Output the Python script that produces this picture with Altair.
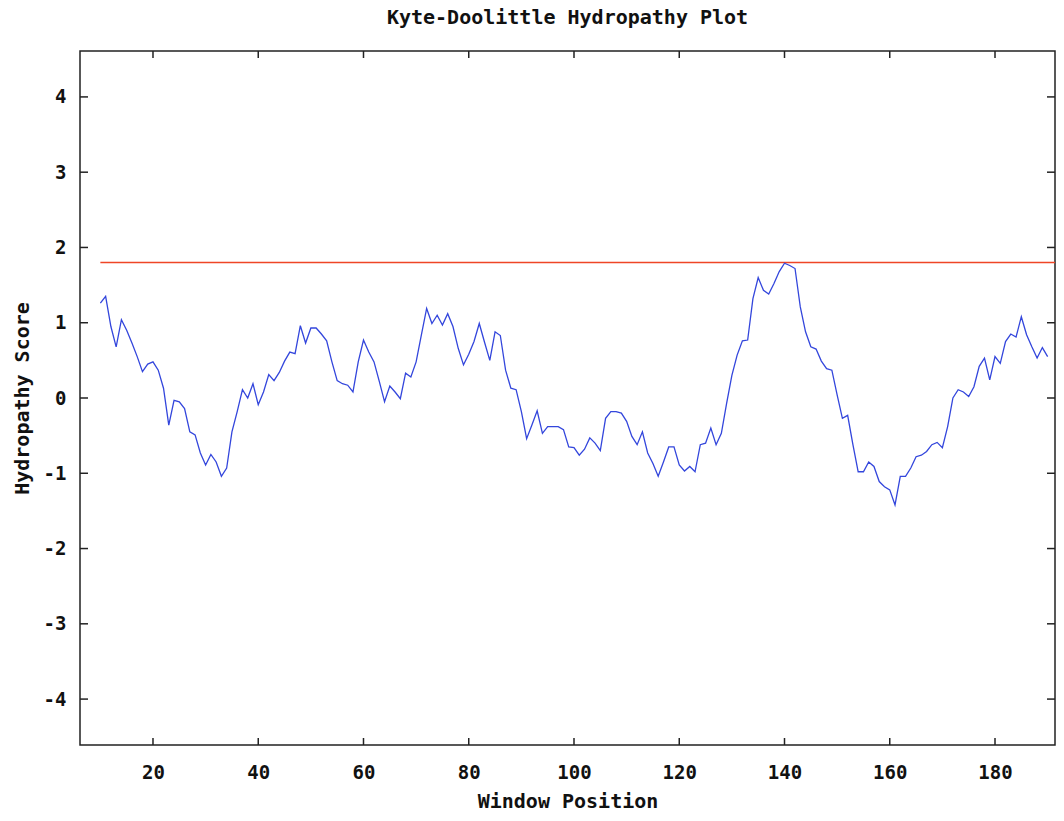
import altair as alt
import pandas as pd

positions = list(range(10, 191))
scores = [
    1.26, 1.35, 0.95, 0.68, 1.04, 0.90, 0.73, 0.55, 0.35, 0.45,
    0.48, 0.37, 0.13, -0.36, -0.03, -0.05, -0.14, -0.45, -0.49, -0.73,
    -0.89, -0.75, -0.85, -1.04, -0.93, -0.45, -0.18, 0.11, 0.00, 0.19,
    -0.09, 0.08, 0.31, 0.23, 0.34, 0.49, 0.61, 0.59, 0.96, 0.73,
    0.93, 0.93, 0.85, 0.76, 0.48, 0.23, 0.19, 0.17, 0.08, 0.48,
    0.77, 0.61, 0.48, 0.22, -0.05, 0.16, 0.08, -0.01, 0.33, 0.28,
    0.48, 0.84, 1.19, 0.99, 1.10, 0.97, 1.12, 0.95, 0.66, 0.44,
    0.58, 0.75, 0.99, 0.74, 0.50, 0.88, 0.83, 0.37, 0.13, 0.11,
    -0.18, -0.54, -0.36, -0.17, -0.47, -0.38, -0.38, -0.38, -0.42, -0.65,
    -0.66, -0.76, -0.68, -0.53, -0.60, -0.70, -0.27, -0.18, -0.18, -0.20,
    -0.31, -0.51, -0.62, -0.45, -0.73, -0.87, -1.04, -0.85, -0.65, -0.65,
    -0.89, -0.97, -0.91, -0.98, -0.62, -0.60, -0.40, -0.62, -0.47, -0.07,
    0.30, 0.57, 0.76, 0.77, 1.32, 1.60, 1.43, 1.38, 1.52, 1.68,
    1.79, 1.76, 1.72, 1.21, 0.88, 0.68, 0.65, 0.49, 0.39, 0.37,
    0.04, -0.27, -0.23, -0.62, -0.98, -0.98, -0.85, -0.91, -1.11, -1.18,
    -1.22, -1.42, -1.04, -1.04, -0.93, -0.78, -0.76, -0.71, -0.62, -0.59,
    -0.66, -0.38, 0.00, 0.11, 0.08, 0.02, 0.15, 0.42, 0.53, 0.24,
    0.55, 0.46, 0.75, 0.85, 0.81, 1.08, 0.84, 0.68, 0.53, 0.67,
    0.55,
]
threshold = [1.8]
threshold_start = [10]
x_ticks = [20, 40, 60, 80, 100, 120, 140, 160, 180]
y_ticks = [-4, -3, -2, -1, 0, 1, 2, 3, 4]

X_DOMAIN = [6.13, 191.4]
Y_DOMAIN = [-4.61, 4.61]
W, H = 975, 694
FONT = "DejaVu Sans Mono"
TICK = 7

df = pd.DataFrame({"pos": positions, "score": scores})
thr = pd.DataFrame({"x": threshold_start, "y": threshold})
xt = pd.DataFrame({"v": x_ticks})
yt = pd.DataFrame({"v": y_ticks})

xscale = alt.Scale(domain=X_DOMAIN, nice=False, zero=False)
yscale = alt.Scale(domain=Y_DOMAIN, nice=False, zero=False)

x_axis = alt.Axis(
    values=x_ticks, labelExpr="toString(datum.value)", grid=False, domain=False,
    tickSize=0, labelPadding=18,
    labelFont=FONT, labelFontWeight="bold", labelFontSize=19, labelColor="#111",
    labelFlush=False, title="Window Position", titleFont=FONT, titleFontWeight="bold",
    titleFontSize=20, titleColor="#111", titleY=56, titleBaseline="middle",
)
y_axis = alt.Axis(
    values=y_ticks, labelExpr="toString(datum.value)", grid=False, domain=False,
    tickSize=0, labelPadding=14,
    labelFont=FONT, labelFontWeight="bold", labelFontSize=19, labelColor="#111",
    labelFlush=False, title="Hydropathy Score", titleFont=FONT, titleFontWeight="bold",
    titleFontSize=20, titleColor="#111", titleX=-58, titleY=H / 2,
    titleBaseline="middle", titleAlign="center", titleAngle=-90,
)

line = alt.Chart(df).mark_line(color="#3346dc", strokeWidth=1.3, interpolate="linear").encode(
    x=alt.X("pos:Q", scale=xscale, axis=x_axis),
    y=alt.Y("score:Q", scale=yscale, axis=y_axis),
)

thr_rule = alt.Chart(thr).mark_rule(color="#ef4526", strokeWidth=1.6).encode(
    x=alt.X("x:Q", scale=xscale),
    x2=alt.value(W),
    y=alt.Y("y:Q", scale=yscale),
)

tick_style = dict(color="#222", strokeWidth=1.5)
xt_bottom = alt.Chart(xt).mark_rule(**tick_style).encode(
    x=alt.X("v:Q", scale=xscale), y=alt.value(H), y2=alt.value(H - TICK))
xt_top = alt.Chart(xt).mark_rule(**tick_style).encode(
    x=alt.X("v:Q", scale=xscale), y=alt.value(0), y2=alt.value(TICK))
yt_left = alt.Chart(yt).mark_rule(**tick_style).encode(
    y=alt.Y("v:Q", scale=yscale), x=alt.value(0), x2=alt.value(TICK + 1))
yt_right = alt.Chart(yt).mark_rule(**tick_style).encode(
    y=alt.Y("v:Q", scale=yscale), x=alt.value(W), x2=alt.value(W - TICK - 1))

chart = alt.layer(thr_rule, line, xt_bottom, xt_top, yt_left, yt_right).properties(
    width=W,
    height=H,
    autosize=alt.AutoSizeParams(type="none"),
    padding={"left": 80, "top": 51, "right": 9, "bottom": 76},
    title=alt.TitleParams(
        "Kyte-Doolittle Hydropathy Plot", font=FONT, fontWeight="bold",
        fontSize=20, color="#111", anchor="middle", offset=22,
    ),
    background="white",
).configure_view(stroke="#222", strokeWidth=1.5)

chart.save("out.html", embed_options={"renderer": "svg", "actions": False})
